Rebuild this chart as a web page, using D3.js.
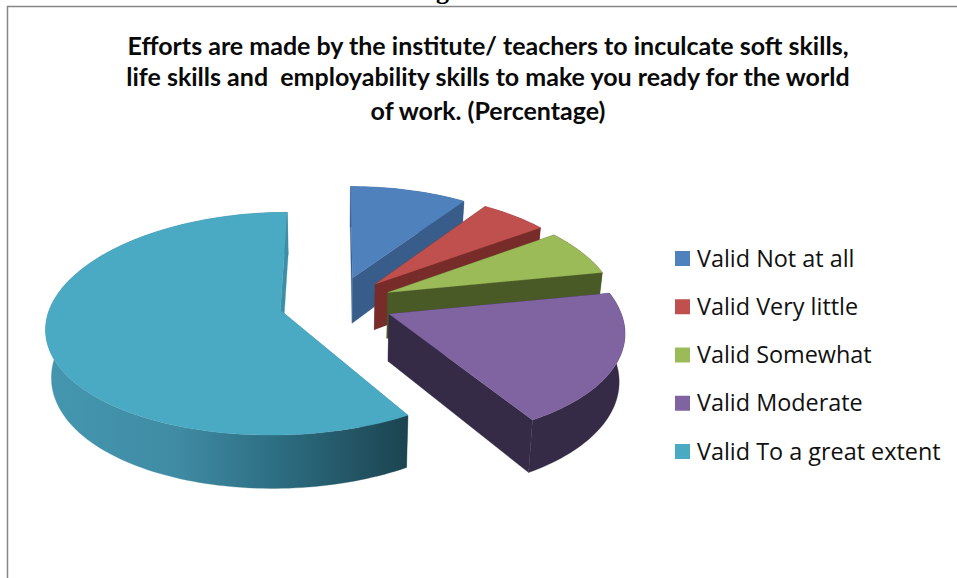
<!DOCTYPE html>
<html><head><meta charset="utf-8">
<script src="https://cdn.jsdelivr.net/npm/d3@7"></script>
<style>html,body{margin:0;padding:0;background:#fff}svg{display:block}</style>
</head><body><div id="chart"></div>
<script>
const categories = ["Valid Not at all","Valid Very little","Valid Somewhat","Valid Moderate","Valid To a great extent"];
const values = [9.6,5.5,6.8,19.5,58.6];
const topColors = ["#4F81BD","#C0504D","#9BBB59","#8064A2","#4AA9C3"];
const faceColors = ["#385D8A","#772C2A","#4A5A26","#352B47","#3D8FA8"];
const titleLines = ["Efforts are made by the institute/ teachers to inculcate soft skills,","life skills and  employability skills to make you ready for the world","of work. (Percentage)"];

const W=957,H=578;
const svg=d3.select("#chart").append("svg").attr("width",W).attr("height",H);
const defs=svg.append("defs");
const g=defs.append("linearGradient").attr("id","tealWall").attr("gradientUnits","userSpaceOnUse")
  .attr("x1",50).attr("x2",407).attr("y1",0).attr("y2",0);
[[0,"#4496AF"],[0.35,"#3F8CA4"],[0.65,"#2C6C80"],[1,"#1C4450"]].forEach(s=>g.append("stop").attr("offset",s[0]).attr("stop-color",s[1]));

// frame + clipped caption letter
svg.append("path").attr("d",`M7.5,${H}V6.5H${W}`).attr("fill","none").attr("stroke","#868686").attr("stroke-width",1.5);
svg.append("text").attr("x",436).attr("y",-1.5).attr("font-family","Liberation Serif").attr("font-weight","bold").attr("font-size",26).attr("fill","#000").text("g");

// title
svg.selectAll("text.t").data(titleLines).join("text").attr("class","t")
  .attr("x",488).attr("y",(d,i)=>[55,85.5,119.5][i]).attr("text-anchor","middle")
  .attr("font-family","Lato").attr("font-weight","bold").attr("font-size",25).attr("fill","#0a0a0a")
  .style("white-space","pre").text(d=>d);

// 3D pie projection
const cx=336,cy=303,A=229,B=108,k=0.12,kX=0.14,explode=0.25,depth=46.5,shrink=0.98;
const sx=d3.scaleLinear().domain([-1,1]).range([cx-A,cx+A]);
const sy=d3.scaleLinear().domain([-1,1]).range([cy-B,cy+B]);
function proj(X,Y,bottom){
  const s=1/(1-k*Y), sX=1/(1-kX*Y);
  const x=sx(X*sX), y=sy(Y*s);
  return bottom?[cx+(x-cx)*shrink,y+depth*s]:[x,y];
}
const pie=d3.pie().sort(null).value(d=>d)(values);
const line=d3.line();
const plot=svg.append("g");
pie.forEach((p,i)=>{
  const mid=(p.startAngle+p.endAngle)/2;
  const ox=explode*Math.sin(mid), oy=-explode*Math.cos(mid);
  const pt=(a,b)=>proj(ox+Math.sin(a),oy-Math.cos(a),b);
  const apex=b=>proj(ox,oy,b);
  const n=Math.max(12,Math.round((p.endAngle-p.startAngle)*40));
  const angs=d3.range(n+1).map(j=>p.startAngle+(p.endAngle-p.startAngle)*j/n);
  const topArc=angs.map(a=>pt(a,false));
  const botArc=angs.map(a=>pt(a,true));
  const G=plot.append("g");
  const wallFill=i===4?"url(#tealWall)":faceColors[i];
  const poly=(pts,fill)=>G.append("path").attr("d",line(pts)+"Z").attr("fill",fill).attr("stroke",fill).attr("stroke-width",0.3);
  poly([apex(false),pt(p.startAngle,false),pt(p.startAngle,true),apex(true)],faceColors[i]);
  poly(topArc.concat(botArc.slice().reverse()),wallFill);
  poly([apex(false),pt(p.endAngle,false),pt(p.endAngle,true),apex(true)],faceColors[i]);
  poly([apex(false)].concat(topArc),topColors[i]);
});

// legend
const ly=d3.scalePoint().domain(categories).range([251,444]);
const leg=svg.selectAll("g.l").data(categories).join("g").attr("class","l");
leg.append("rect").attr("x",675).attr("y",d=>ly(d)).attr("width",15).attr("height",15).attr("fill",(d,i)=>topColors[i]);
leg.append("text").attr("x",697).attr("y",d=>ly(d)+15.5).attr("font-family","Open Sans").attr("font-size",23.4).attr("fill","#111").text(d=>d);
</script></body></html>
